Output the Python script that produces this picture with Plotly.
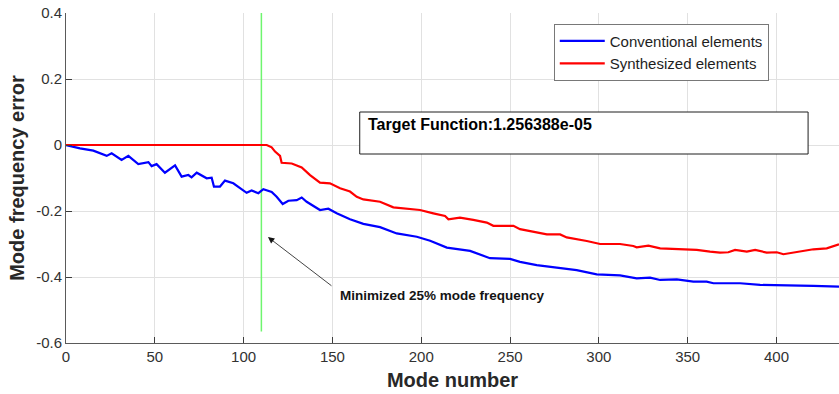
import plotly.graph_objects as go

# ---- data ----
conv_x = [0, 7.9, 15.4, 22.9, 25.7, 31.3, 35.1, 40.7, 46.4, 48.2, 51.0, 55.7, 61.4, 65.1, 68.9,
          70.7, 73.6, 79.2, 82, 83.3, 86.7, 89.5, 94.2, 99.8, 101.7, 104.5, 108.3, 111.1, 115.8,
          118.6, 122, 125.2, 129.9, 132.7, 135.5, 143, 147.7, 152.4, 159.9, 167.4, 176.8, 186.2,
          197.5, 205, 214.4, 227.5, 238.7, 250, 255.6, 265, 274.4, 287.5, 298.8, 311.9, 321.3,
          328.8, 334.5, 343.9, 353.2, 360.7, 364.5, 379.5, 390.8, 402, 413.3, 420.8, 435.2]
conv_y = [0, -0.010, -0.017, -0.033, -0.025, -0.045, -0.033, -0.058, -0.052, -0.064, -0.058,
          -0.084, -0.062, -0.096, -0.091, -0.098, -0.084, -0.101, -0.099, -0.126, -0.126, -0.108,
          -0.116, -0.139, -0.145, -0.138, -0.146, -0.134, -0.142, -0.157, -0.179, -0.169, -0.167,
          -0.159, -0.172, -0.197, -0.193, -0.207, -0.225, -0.239, -0.249, -0.268, -0.278, -0.290,
          -0.311, -0.321, -0.343, -0.345, -0.354, -0.364, -0.371, -0.379, -0.392, -0.395, -0.404,
          -0.402, -0.409, -0.407, -0.414, -0.414, -0.419, -0.419, -0.424, -0.426, -0.426, -0.427,
          -0.429]

syn_x = [0, 110.2, 113, 115.8, 117.7, 120.5, 121.4, 127.1, 132.7, 137.4, 143, 148.6, 154.3,
         159.9, 163.7, 167.4, 176.8, 184.3, 191.8, 199.3, 206.8, 213.4, 215.3, 221.8, 229.3,
         236.9, 240.6, 251.9, 255.6, 263.1, 270.7, 278.2, 281.9, 293.2, 300.7, 311.9, 319.4,
         321.3, 327.9, 334.5, 345.7, 355.1, 362.6, 368.2, 372.9, 376.7, 383.3, 388, 394.5,
         400.2, 403.9, 413.3, 420.8, 428.3, 435.2]
syn_y = [0, 0, 0, -0.007, -0.020, -0.033, -0.054, -0.056, -0.068, -0.091, -0.114, -0.116,
         -0.131, -0.141, -0.157, -0.165, -0.172, -0.189, -0.193, -0.197, -0.207, -0.215, -0.225,
         -0.220, -0.227, -0.235, -0.245, -0.245, -0.255, -0.263, -0.271, -0.271, -0.280, -0.291,
         -0.300, -0.300, -0.306, -0.310, -0.305, -0.313, -0.316, -0.318, -0.323, -0.326, -0.325,
         -0.318, -0.323, -0.318, -0.326, -0.325, -0.331, -0.323, -0.316, -0.313, -0.301]

marker_x = [110, 110]
marker_y = [0.4, -0.565]

x_ticks = [0, 50, 100, 150, 200, 250, 300, 350, 400]
x_tick_labels = ["0", "50", "100", "150", "200", "250", "300", "350", "400"]
y_ticks = [-0.6, -0.4, -0.2, 0, 0.2, 0.4]
y_tick_labels = ["-0.6", "-0.4", "-0.2", "0", "0.2", "0.4"]

series_names = ["Conventional elements", "Synthesized elements"]
target_text = "Target Function:1.256388e-05"
note_text = "Minimized 25% mode frequency"
arrow_tip = (113.7, -0.279)
arrow_tail = (150.3, -0.43)

FONT = "Liberation Sans, Arial, Helvetica, sans-serif"

fig = go.Figure()
fig.add_trace(go.Scatter(x=marker_x, y=marker_y, mode="lines", showlegend=False,
                         line=dict(color="rgb(110,245,110)", width=1.5), hoverinfo="skip"))
fig.add_trace(go.Scatter(x=conv_x, y=conv_y, mode="lines", name=series_names[0],
                         line=dict(color="rgb(0,0,255)", width=2.2)))
fig.add_trace(go.Scatter(x=syn_x, y=syn_y, mode="lines", name=series_names[1],
                         line=dict(color="rgb(255,0,0)", width=2.2)))

axis_common = dict(showgrid=True, gridcolor="rgb(225,225,225)", gridwidth=1,
                   zeroline=False, showline=True, linecolor="rgb(90,90,90)", linewidth=1,
                   ticks="inside", ticklen=6, tickcolor="rgb(60,60,60)",
                   tickfont=dict(family=FONT, size=15, color="rgb(50,50,50)"), mirror=False)

fig.update_xaxes(range=[0, 435.2], tickvals=x_ticks, ticktext=x_tick_labels,
                 title=dict(text="<b>Mode number</b>", font=dict(family=FONT, size=20, color="rgb(40,40,40)"),
                            standoff=8),
                 **axis_common)
fig.update_yaxes(range=[-0.6, 0.4], tickvals=y_ticks, ticktext=y_tick_labels,
                 title=dict(text="<b>Mode frequency error</b>", font=dict(family=FONT, size=20, color="rgb(40,40,40)"),
                            standoff=6),
                 **axis_common)

fig.update_layout(
    width=839, height=394,
    margin=dict(l=66, r=0, t=13, b=51),
    paper_bgcolor="white", plot_bgcolor="white",
    font=dict(family=FONT),
    showlegend=True,
    legend=dict(x=0.631, y=0.968, xanchor="left", yanchor="top",
                bgcolor="white", bordercolor="rgb(120,120,120)", borderwidth=1,
                font=dict(family=FONT, size=15, color="rgb(30,30,30)"),
                tracegroupgap=0, itemwidth=45),
    shapes=[dict(type="rect", xref="paper", yref="paper", x0=0.380, x1=0.960, y0=0.5727, y1=0.700,
                 line=dict(color="rgb(30,30,30)", width=1), fillcolor="white", layer="above")],
    annotations=[
        dict(xref="paper", yref="paper", x=0.388, y=0.6636, xanchor="left", yanchor="middle",
             text="<b>" + target_text + "</b>", showarrow=False,
             font=dict(family=FONT, size=16, color="black")),
        dict(x=arrow_tip[0], y=arrow_tip[1], ax=arrow_tail[0], ay=arrow_tail[1],
             xref="x", yref="y", axref="x", ayref="y", text="", showarrow=True,
             arrowhead=2, arrowsize=1.6, arrowwidth=0.8, arrowcolor="rgb(20,20,20)"),
        dict(x=153, y=-0.455, xref="x", yref="y", xanchor="left", yanchor="middle",
             text="<b>" + note_text + "</b>", showarrow=False,
             font=dict(family=FONT, size=13.5, color="rgb(20,20,20)")),
    ],
)

fig.write_html("out.html")
